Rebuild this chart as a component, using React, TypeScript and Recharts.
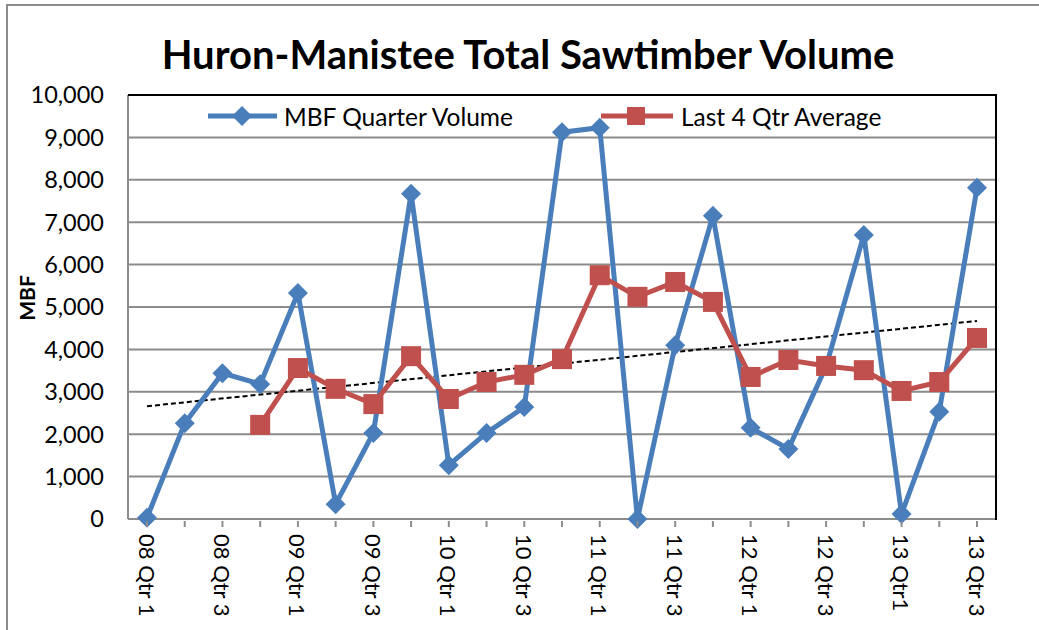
import React from 'react';
import {
  LineChart, Line, XAxis, YAxis, CartesianGrid,
} from 'recharts';

const quarters = [
  '08 Qtr 1', '08 Qtr 2', '08 Qtr 3', '08 Qtr 4',
  '09 Qtr 1', '09 Qtr 2', '09 Qtr 3', '09 Qtr 4',
  '10 Qtr 1', '10 Qtr 2', '10 Qtr 3', '10 Qtr 4',
  '11 Qtr 1', '11 Qtr 2', '11 Qtr 3', '11 Qtr 4',
  '12 Qtr 1', '12 Qtr 2', '12 Qtr 3', '12 Qtr 4',
  '13 Qtr1', '13 Qtr 2', '13 Qtr 3',
];

const quarterVolume = [
  30, 2260, 3440, 3180, 5330, 350, 2030, 7670, 1270, 2030, 2640, 9120,
  9230, 0, 4100, 7150, 2150, 1650, 3600, 6700, 120, 2530, 7810,
];

const fourQtrAverage = [
  null, null, null, 2220, 3560, 3070, 2710, 3840, 2830, 3230, 3400, 3770,
  5750, 5240, 5590, 5120, 3350, 3750, 3610, 3510, 3020, 3230, 4270,
];

// linear trend of the quarter volume, ends
const trendStart = 2660;
const trendEnd = 4670;

const yTicks = [0, 1000, 2000, 3000, 4000, 5000, 6000, 7000, 8000, 9000, 10000];

const data = quarters.map((q, i) => ({
  q,
  volume: quarterVolume[i],
  avg: fourQtrAverage[i],
  trend: i === 0 ? trendStart : i === quarters.length - 1 ? trendEnd : null,
}));

const BLUE = '#4a7ebb';
const RED = '#c0504d';
const FONT = 'Lato, "Open Sans", sans-serif';

const Diamond = (props: any) => {
  const { cx, cy, index } = props;
  if (cx == null || cy == null || props.value == null) return <g key={index} />;
  const r = 10;
  return (
    <path
      key={index}
      d={`M${cx},${cy - r} L${cx + r},${cy} L${cx},${cy + r} L${cx - r},${cy} Z`}
      fill={BLUE}
    />
  );
};

const Square = (props: any) => {
  const { cx, cy, index } = props;
  if (cx == null || cy == null || props.value == null) return <g key={index} />;
  const s = 10;
  return <rect key={index} x={cx - s} y={cy - s} width={s * 2} height={s * 2} fill={RED} />;
};

const XTick = (props: any) => {
  const { x, y, payload, index } = props;
  return (
    <g>
      <line x1={x} y1={y - 8} x2={x} y2={y - 2} stroke="#8c8c8c" strokeWidth={2} />
      {index % 2 === 0 && (
        <text
          x={x}
          y={y + 5}
          transform={`rotate(90, ${x}, ${y + 5})`}
          textAnchor="start"
          dominantBaseline="central"
          fontSize={22}
          fontFamily={FONT}
          fill="#000"
        >
          {payload.value}
        </text>
      )}
    </g>
  );
};

const LegendBox = () => (
  <svg width={900} height={40} style={{ position: 'absolute', left: 0, top: 96 }}>
    <line x1={208} y1={20} x2={277} y2={20} stroke={BLUE} strokeWidth={5} />
    <path d="M242,10 L252,20 L242,30 L232,20 Z" fill={BLUE} />
    <text x={284} y={20} dominantBaseline="central" fontSize={24.5} fontFamily={FONT}>MBF Quarter Volume</text>
    <line x1={601} y1={20} x2={673} y2={20} stroke={RED} strokeWidth={5} />
    <rect x={627} y={11} width={18} height={18} fill={RED} />
    <text x={681} y={20} dominantBaseline="central" fontSize={24.5} fontFamily={FONT}>Last 4 Qtr Average</text>
  </svg>
);

export default function App() {
  return (
    <div
      style={{
        position: 'fixed', left: 0, top: 0, width: 1039, height: 630,
        overflow: 'hidden', background: '#fff', fontFamily: FONT,
      }}
    >
      <div
        style={{
          position: 'absolute', left: 6, top: 4, width: 1100, height: 700,
          border: '2px solid #8c8c8c',
        }}
      />
      <div
        style={{
          position: 'absolute', left: 0, top: 30, width: 1056, textAlign: 'center',
          fontSize: 40, fontWeight: 700, color: '#000', lineHeight: '48px',
        }}
      >
        Huron-Manistee Total Sawtimber Volume
      </div>
      <div
        style={{
          position: 'absolute', left: 27, top: 298, transform: 'translate(-50%, -50%) rotate(-90deg)',
          fontSize: 21, fontWeight: 700, lineHeight: '24px',
        }}
      >
        MBF
      </div>
      <div style={{ position: 'absolute', left: 0, top: 0 }}>
        <LineChart
          width={1039}
          height={630}
          data={data}
          margin={{ top: 95, right: 43, left: 48, bottom: 11 }}
        >
          <CartesianGrid vertical={false} stroke="#8c8c8c" strokeWidth={2} />
          <XAxis
            dataKey="q"
            interval={0}
            height={100}
            padding={{ left: 19, right: 19 }}
            axisLine={{ stroke: '#8c8c8c', strokeWidth: 2 }}
            tickLine={false}
            tick={<XTick />}
            tickSize={8}
          />
          <YAxis
            width={80}
            domain={[0, 10000]}
            ticks={yTicks}
            interval={0}
            tickFormatter={(v: number) => v.toLocaleString('en-US')}
            axisLine={{ stroke: '#8c8c8c', strokeWidth: 2 }}
            tickLine={false}
            tickSize={0}
            tickMargin={24}
            tick={{ fontSize: 23.5, fill: '#000', fontFamily: FONT }}
          />
          <Line
            dataKey="trend"
            stroke="#000"
            strokeWidth={2}
            strokeDasharray="5 3"
            dot={false}
            connectNulls
            isAnimationActive={false}
            legendType="none"
          />
          <Line
            dataKey="volume"
            stroke={BLUE}
            strokeWidth={5}
            dot={<Diamond />}
            isAnimationActive={false}
          />
          <Line
            dataKey="avg"
            stroke={RED}
            strokeWidth={5}
            dot={<Square />}
            isAnimationActive={false}
          />
        </LineChart>
      </div>
      <LegendBox />
      <div
        style={{
          position: 'absolute', left: 128, top: 94, width: 867, height: 424,
          borderTop: '2px solid #000', borderRight: '2px solid #000', pointerEvents: 'none',
        }}
      />
    </div>
  );
}
